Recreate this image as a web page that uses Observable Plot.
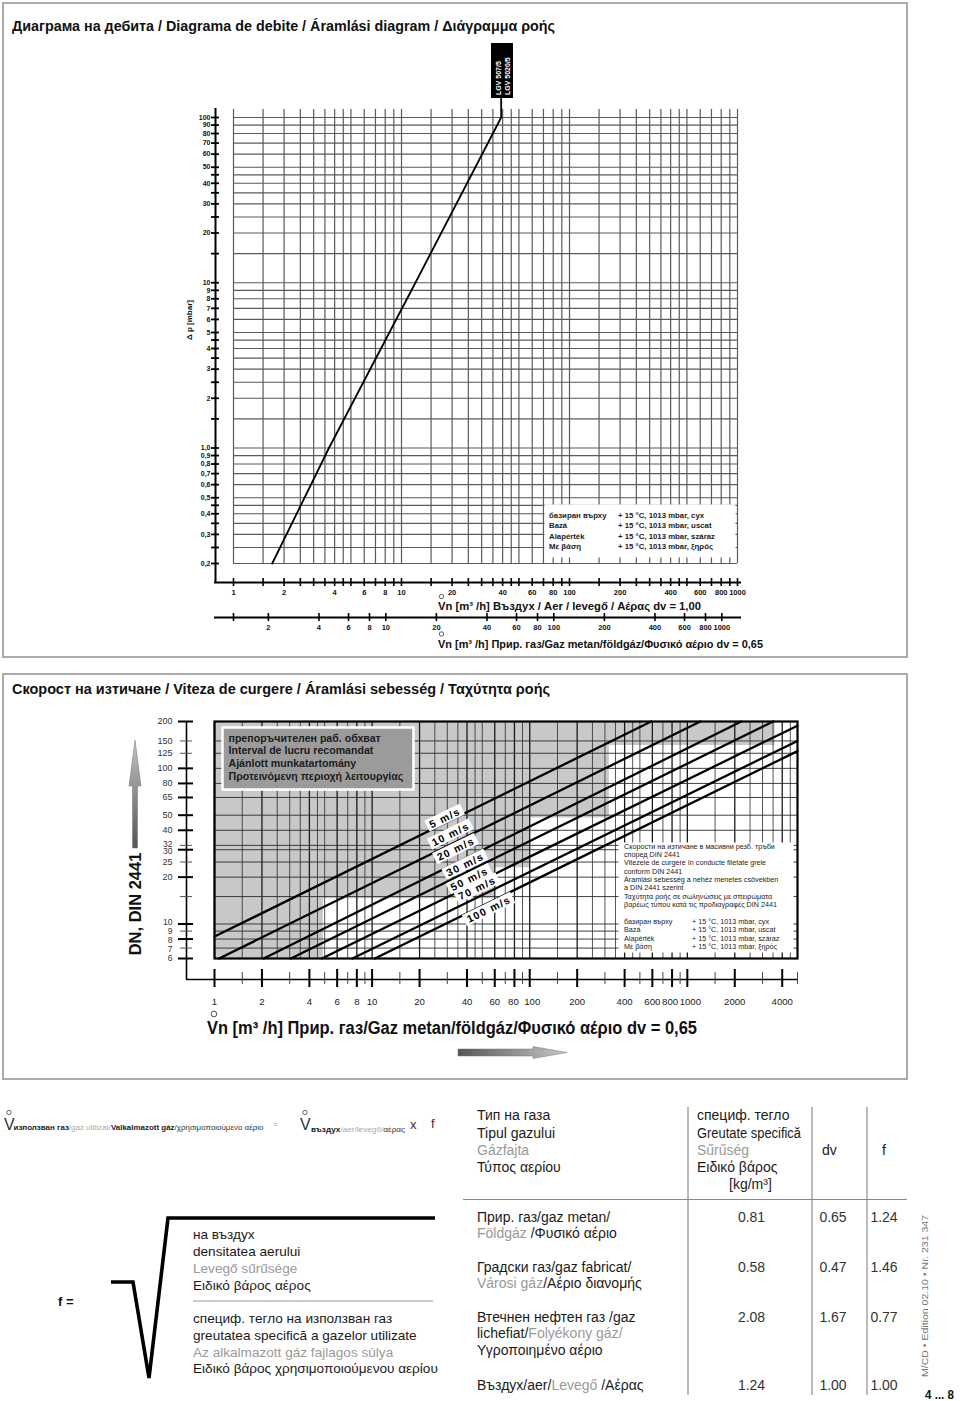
<!DOCTYPE html>
<html><head><meta charset="utf-8">
<script src="https://cdn.jsdelivr.net/npm/d3@7"></script>
<script src="https://cdn.jsdelivr.net/npm/@observablehq/plot@0.6"></script>
<style>
body{margin:0;background:#fff;}
#page{position:relative;width:960px;height:1401px;overflow:hidden;background:#fff;}
#page svg{position:absolute;left:0;}
</style></head><body><div id="page"></div>
<script>
const FONT = '"Liberation Sans", Arial, Helvetica, sans-serif';

// ---------------- Top chart: Δp vs flow ----------------
const flowGridTop = [1,1.5,2,2.5,3,3.5,4,4.5,5,6,7,8,9,10,15,20,25,30,35,40,45,50,60,70,80,90,100,150,200,250,300,350,400,450,500,600,700,800,900,1000];
const dpGrid = [0.2,0.25,0.3,0.35,0.4,0.45,0.5,0.6,0.7,0.8,0.9,1,1.5,2,2.5,3,3.5,4,4.5,5,6,7,8,9,10,15,20,25,30,35,40,45,50,60,70,80,90,100];
const dpTickValues = [100,90,80,70,60,50,40,30,20,10,9,8,7,6,5,4,3,2,1,0.9,0.8,0.7,0.6,0.5,0.4,0.3,0.2];
const dpTickLabels = ["100","90","80","70","60","50","40","30","20","10","9","8","7","6","5","4","3","2","1,0","0,9","0,8","0,7","0,6","0,5","0,4","0,3","0,2"];
const airTicks = [1,2,4,6,8,10,20,40,60,80,100,200,400,600,800,1000];
const gasTicks = [2,4,6,8,10,20,40,60,80,100,200,400,600,800,1000];
const gasStartTick = [1.24];
const gasFactor = 1.24;
const lgvFlow = [1.70,3.7,12.1,39.2,39.2];
const lgvDp   = [0.2,1,10,100,130];
const deviceNames = ["LGV 507/5","LGV 5020/5"];

// ---------------- Bottom chart: velocity ----------------
const dnGrid = [6,7,8,9,10,15,20,25,30,32,40,50,65,80,100,125,150,200];
const dnMajor = [200,100,80,65,50,40,30,20,10,8,6];
const dnMinor = [150,125,32,25,15,9,7];
const dnLabels = [200,150,125,100,80,65,50,40,32,30,25,20,10,9,8,7,6];
const flowGridBottom = [1,1.5,2,2.5,3,3.5,4,4.5,5,6,7,8,9,10,15,20,25,30,35,40,45,50,60,70,80,90,100,150,200,250,300,350,400,450,500,600,700,800,900,1000,1500,2000,2500,3000,3500,4000,4500,5000];
const flowLabels = [1,2,4,6,8,10,20,40,60,80,100,200,400,600,800,1000,2000,4000];
const flowMinorTicks = [1.5,3,5,7,9,15,30,50,70,90,150,300,500,700,900,1500,3000,5000];
const speedNames = ["5 m/s","10 m/s","20 m/s","30 m/s","50 m/s","70 m/s","100 m/s"];
const speedStartQ  = [1, 1.07, 2.05, 3.05, 4.8, 7.5, 10.4];
const speedStartDN = [8.3, 6, 6, 6, 6, 6, 6];
const speedEndQ    = [590, 1210, 2200, 3500, 5000, 5000, 5000];
const speedEndDN   = [200, 200, 200, 200, 188, 150, 129];
const speedLabelQ  = [29, 31.5, 34, 39, 41.5, 46.5, 55];
const rangeQ  = [1, 4.9, 60, 100, 320, 3600, 5000];
const rangeDN = [6, 14.5, 23, 48, 140, 200, 200];

// ---------------- Table ----------------
const densities = [0.81, 0.58, 2.08, 1.24];
const dvValues  = [0.65, 0.47, 1.67, 1.00];
const fValues   = [1.24, 1.46, 0.77, 1.00];

const page = document.getElementById("page");

// ===== Top plot =====
const lgvData = lgvFlow.map((v,i)=>({v, dp: lgvDp[i]}));
const topPlot = Plot.plot({
  width: 960, height: 660,
  marginLeft: 233, marginRight: 223, marginTop: 117, marginBottom: 97,
  style: {background: "transparent", fontFamily: FONT, overflow: "visible"},
  x: {type: "log", domain: [1, 1000], axis: null},
  y: {type: "log", domain: [0.2, 100], axis: null},
  marks: [
    Plot.ruleX(flowGridTop, {x: d=>d, y1: 100, y2: 0.2, insetTop: -8, stroke: "#5a5a5a", strokeWidth: 1.2}),
    Plot.ruleY(dpGrid, {y: d=>d, x1: 1, x2: 1000, stroke: "#5a5a5a", strokeWidth: 1.2}),
    Plot.frame({fill: "white", stroke: "none", insetLeft: 311, insetRight: 2, insetTop: 387, insetBottom: 6}),
    Plot.line(lgvData, {x: "v", y: "dp", stroke: "#000", strokeWidth: 1.8}),
    // y axis
    Plot.ruleX([1], {y1: 100, y2: 0.2, dx: -18, insetTop: -9, insetBottom: -19, stroke: "#000", strokeWidth: 2}),
    Plot.ruleY(dpGrid, {y: d=>d, x1: 1, x2: 1, dx: -18, insetLeft: -4, insetRight: -4, stroke: "#000", strokeWidth: 1.8}),
    Plot.text(dpTickValues, {y: d=>d, text: (d,i)=>dpTickLabels[i], frameAnchor: "left", dx: -23, textAnchor: "end", fontSize: 7, fontWeight: "bold", fill: "#111"}),
    // air axis
    Plot.ruleY([0.2], {y: d=>d, x1: 1, x2: 1000, dy: 19, insetLeft: -19, insetRight: -4, stroke: "#000", strokeWidth: 2}),
    Plot.ruleX(flowGridTop, {x: d=>d, y1: 0.2, y2: 0.2, dy: 19, insetTop: -4, insetBottom: -4, stroke: "#000", strokeWidth: 1.6}),
    Plot.text(airTicks, {x: d=>d, text: d=>String(d), frameAnchor: "bottom", dy: 31, fontSize: 7.5, fontWeight: "bold", fill: "#111"}),
    // natural gas axis
    Plot.ruleY([0.2], {y: d=>d, x1: 1, x2: 1000, dy: 54, insetLeft: -19, insetRight: -4, stroke: "#000", strokeWidth: 2}),
    Plot.ruleX(gasTicks.concat(gasStartTick), {x: d=>d/gasFactor, y1: 0.2, y2: 0.2, dy: 54, insetTop: -4, insetBottom: -4, stroke: "#000", strokeWidth: 1.6}),
    Plot.text(gasTicks, {x: d=>d/gasFactor, text: d=>String(d), frameAnchor: "bottom", dy: 66, fontSize: 7.5, fontWeight: "bold", fill: "#111"})
  ]
});
topPlot.style.top = "0px";
page.appendChild(topPlot);

// ===== Bottom plot =====
const speedRows = [];
speedNames.forEach((s,i)=>{
  speedRows.push({s, Q: speedStartQ[i], DN: speedStartDN[i]});
  speedRows.push({s, Q: speedEndQ[i], DN: speedEndDN[i]});
});
function dnOnLine(i, q){
  const a = Math.log10(speedStartQ[i]), b = Math.log10(speedEndQ[i]);
  const c = Math.log10(speedStartDN[i]), d = Math.log10(speedEndDN[i]);
  return Math.pow(10, c + (Math.log10(q)-a)*(d-c)/(b-a));
}
const labelDy = [-5,-10,-14,-8,-7,-9,7];
const rangeData = rangeQ.map((q,i)=>({q, dn: rangeDN[i]}));
const flowMajorLines = flowGridBottom.filter(v=>flowLabels.includes(v));
const flowMinorLines = flowGridBottom.filter(v=>!flowLabels.includes(v));
// small label nudges (pixels) to keep crowded tick labels apart
const dnNudge = {32: -1.5, 30: 2, 10: -1.5, 9: 0, 8: 1, 7: 1.5};
const flowNudge = {80: -1, 100: 2.5, 800: -2, 1000: 3};

const bottomPlot = Plot.plot({
  width: 960, height: 430,
  marginLeft: 214, marginRight: 163, marginTop: 61, marginBottom: 132,
  style: {background: "transparent", fontFamily: FONT, overflow: "visible"},
  x: {type: "log", domain: [1, 5000], axis: null},
  y: {type: "log", domain: [6, 200], axis: null},
  marks: [
    Plot.areaY(rangeData, {x: "q", y1: "dn", y2: 200, curve: "step-after", fill: "#c8c8c8"}),
    Plot.ruleX(flowMinorLines, {x: d=>d, y1: 200, y2: 6, stroke: "#2a2a2a", strokeWidth: 0.8}),
    Plot.ruleX(flowMajorLines, {x: d=>d, y1: 200, y2: 6, stroke: "#1a1a1a", strokeWidth: 1.3}),
    Plot.ruleY(dnGrid, {y: d=>d, x1: 1, x2: 5000, stroke: "#2a2a2a", strokeWidth: 0.9}),
    Plot.frame({fill: "#9b9b9b", stroke: "white", strokeWidth: 2.5, insetLeft: 8, insetTop: 6, insetRight: 384, insetBottom: 169}),
    Plot.frame({fill: "white", stroke: "none", insetLeft: 404, insetTop: 121, insetRight: 4, insetBottom: 6}),
    Plot.line(speedRows, {x: "Q", y: "DN", z: "s", stroke: "#000", strokeWidth: 2.3}),
    ...speedNames.map((s,i)=>Plot.text([s], {x: ()=>speedLabelQ[i], y: ()=>dnOnLine(i, speedLabelQ[i]), text: d=>d, rotate: -26, dy: labelDy[i], fontSize: 10.5, fontWeight: "bold", fill: "#000"})),
    Plot.frame({stroke: "#000", strokeWidth: 2.2}),
    // y axis (DN)
    Plot.ruleX([1], {y1: 200, y2: 6, dx: -28, insetBottom: -21, stroke: "#000", strokeWidth: 1.6}),
    Plot.ruleY(dnMajor, {y: d=>d, x1: 1, x2: 1, dx: -28, insetLeft: -8, insetRight: -7, stroke: "#000", strokeWidth: 2}),
    Plot.ruleY(dnMinor, {y: d=>d, x1: 1, x2: 1, dx: -28, insetLeft: -6, insetRight: -6, stroke: "#555", strokeWidth: 1}),
    ...dnLabels.map(v=>Plot.text([v], {y: d=>d, text: d=>String(d), frameAnchor: "left", dx: -42, dy: dnNudge[v]||0, textAnchor: "end", fontSize: (v<=32 && v!==20 && v!==25) ? 8.5 : 9, fill: "#333"})),
    // x axis (flow)
    Plot.ruleY([6], {y: d=>d, x1: 1, x2: 5000, dy: 21, insetLeft: -28, stroke: "#000", strokeWidth: 1.5}),
    Plot.ruleX(flowLabels, {x: d=>d, y1: 6, y2: 6, dy: 21, insetTop: -10, insetBottom: -8, stroke: "#000", strokeWidth: 2}),
    Plot.ruleX(flowMinorTicks, {x: d=>d, y1: 6, y2: 6, dy: 21, insetTop: -7, insetBottom: -5, stroke: "#444", strokeWidth: 1}),
    ...flowLabels.map(v=>Plot.text([v], {x: d=>d, text: d=>String(d), frameAnchor: "bottom", dx: flowNudge[v]||0, dy: 46, fontSize: 9.6, fill: "#222"}))
  ]
});
bottomPlot.style.top = "660px";
page.appendChild(bottomPlot);

// white boxes behind speed labels
d3.select(bottomPlot).selectAll("text").filter(function(){ return speedNames.includes(this.textContent); }).each(function(){
  this.style.letterSpacing = "1.3px";
  const b = this.getBBox();
  const r = document.createElementNS("http://www.w3.org/2000/svg","rect");
  r.setAttribute("x", b.x-3); r.setAttribute("y", b.y);
  r.setAttribute("width", b.width+6); r.setAttribute("height", b.height);
  r.setAttribute("fill", "white");
  const tr = this.getAttribute("transform"); if (tr) r.setAttribute("transform", tr);
  this.parentNode.insertBefore(r, this);
});

// ===== Overlay: panels, titles, notes, table =====
const ov = d3.select(page).append("svg").attr("width", 960).attr("height", 1401).style("top","0px")
  .style("font-family", FONT);
const defs = ov.append("defs");
const gv = defs.append("linearGradient").attr("id","gV").attr("x1",0).attr("y1",0).attr("x2",0).attr("y2",1);
gv.append("stop").attr("offset","0").attr("stop-color","#c4c4c4");
gv.append("stop").attr("offset","1").attr("stop-color","#555");
const gh = defs.append("linearGradient").attr("id","gH").attr("x1",0).attr("y1",0).attr("x2",1).attr("y2",0);
gh.append("stop").attr("offset","0").attr("stop-color","#555");
gh.append("stop").attr("offset","1").attr("stop-color","#c8c8c8");

function txt(x, y, parts, o={}){
  const t = ov.append("text").attr("x", x).attr("y", y).attr("dominant-baseline","central")
    .attr("font-size", o.size||10).attr("font-weight", o.weight||"normal").attr("fill", o.fill||"#1a1a1a")
    .attr("text-anchor", o.anchor||"start");
  if (o.len) t.attr("textLength", o.len).attr("lengthAdjust","spacingAndGlyphs");
  if (o.rotate) t.attr("transform", `rotate(${o.rotate},${x},${y})`);
  if (typeof parts === "string") parts = [[parts]];
  for (const [s, c, w] of parts){ const ts = t.append("tspan").text(s); if (c) ts.attr("fill", c); if (w) ts.attr("font-weight", w); }
  return t;
}
function ring(x, y, r, c){ ov.append("circle").attr("cx",x).attr("cy",y).attr("r",r).attr("fill","none").attr("stroke",c||"#333").attr("stroke-width",0.8); }

// panel borders
ov.append("rect").attr("x",3).attr("y",3).attr("width",904).attr("height",654).attr("fill","none").attr("stroke","#aaa").attr("stroke-width",2);
ov.append("rect").attr("x",3).attr("y",674).attr("width",904).attr("height",405).attr("fill","none").attr("stroke","#aaa").attr("stroke-width",2);

// titles
txt(12, 26, "Диаграма на дебита / Diagrama de debite / Áramlási diagram / Διάγραμμα ροής", {size: 14, weight: "bold", len: 543, fill: "#111"});
txt(12, 689, "Скорост на изтичане / Viteza de curgere / Áramlási sebesség /  Ταχύτητα ροής", {size: 14, weight: "bold", len: 538, fill: "#111"});

// LGV box
ov.append("rect").attr("x",491).attr("y",43).attr("width",22).attr("height",55).attr("fill","#000");
txt(497.5, 95, deviceNames[0], {size: 7, weight: "bold", fill: "#fff", rotate: -90});
txt(507, 95, deviceNames[1], {size: 7, weight: "bold", fill: "#fff", rotate: -90});

// Δp title
txt(189, 320, "Δ p [mbar]", {size: 8, weight: "bold", anchor: "middle", rotate: -90, fill: "#111"});

// top legend
const baseNames = ["базиран върху","Bazá","Alapérték","Με βάση"];
const baseConds = ["+ 15 °C, 1013 mbar, cyx","+ 15 °C, 1013 mbar, uscat","+ 15 °C, 1013 mbar, száraz","+ 15 °C, 1013 mbar, ξηρός"];
const legY = [515, 525.4, 535.7, 546.2];
baseNames.forEach((s,i)=>txt(549, legY[i], s, {size: 7.8, weight: "bold", fill: "#222"}));
baseConds.forEach((s,i)=>txt(618, legY[i], s, {size: 7.8, weight: "bold", fill: "#222"}));

// top axis titles
ring(441.5, 596.5, 2.2);
txt(438, 606, "Vn [m³ /h] Въздух / Aer / levegő / Αέρας dv = 1,00", {size: 11.5, weight: "bold", len: 263, fill: "#111"});
ring(441.5, 634, 2.2);
txt(438, 643.5, "Vn [m³ /h] Прир. газ/Gaz metan/földgáz/Φυσικό αέριο dv = 0,65", {size: 11.5, weight: "bold", len: 325, fill: "#111"});

// bottom chart: recommended range box text
const rangeNames = ["препоръчителен раб. обхват","Interval de lucru recomandat","Ajánlott munkatartomány","Προτεινόμενη περιοχή λειτουργίας"];
[737.5, 750.3, 763.2, 776].forEach((y,i)=>txt(228.5, y, rangeNames[i], {size: 10.6, weight: "bold", fill: "#1c1c1c"}));

// note
const noteLines = ["Скорости на изтичане в масивни резб. тръби","според DIN 2441","Vitezele de curgere în conducte filetate grele","conform DIN 2441","Áramlási sebesség a nehéz menetes csövekben","a DIN 2441 szerint","Ταχύτητα ροής σε σωληνώσεις με σπειρώματα","βαρέως τύπου κατά τις προδιαγραφές DIN 2441"];
[845.7, 854, 862.3, 870.7, 879, 887.3, 895.7, 904].forEach((y,i)=>txt(624, y, noteLines[i], {size: 7.2, fill: "#222"}));
[921, 929.3, 937.7, 946].forEach((y,i)=>{ txt(624, y, baseNames[i], {size: 7.2, fill: "#222"}); txt(692, y, baseConds[i], {size: 7.2, fill: "#222"}); });

// DN arrow + label
ov.append("polygon").attr("points","135,740 129,786 132.5,786 132.5,848 137.5,848 137.5,786 141,786").attr("fill","url(#gV)").attr("stroke","#777").attr("stroke-width",0.5);
txt(135, 904, "DN, DIN 2441", {size: 16.5, weight: "bold", anchor: "middle", rotate: -90, fill: "#111"});

// bottom x title + arrow
ring(214, 1014, 2.8, "#222");
txt(207, 1027.5, "Vn [m³ /h] Прир. газ/Gaz metan/földgáz/Φυσικό αέριο dv = 0,65", {size: 17.5, weight: "bold", len: 490, fill: "#111"});
ov.append("polygon").attr("points","458,1049 533,1049 533,1046.5 567,1052.5 533,1058.5 533,1056 458,1056").attr("fill","url(#gH)").attr("stroke","#777").attr("stroke-width",0.5);

// ===== formula =====
ring(9, 1112.5, 2.2, "#444");
txt(4, 1124, "V", {size: 16, fill: "#333"});
txt(13.5, 1127, [["използван газ","#222","bold"],["/gaz utilizat/","#aaa"],["Valkalmazott gáz","#222","bold"],["/χρησιμοποιούμενο αέριο","#333"]], {size: 7, len: 250});
txt(273, 1124, "=", {size: 8, fill: "#999"});
ring(305, 1112.5, 2.2, "#444");
txt(300, 1124, "V", {size: 16, fill: "#333"});
txt(311, 1128.5, [["въздух","#222","bold"],["/aer/levegő/","#aaa"],["αέρας","#333"]], {size: 7, len: 94});
txt(410, 1124, "x", {size: 13, fill: "#333"});
txt(431, 1123, "f", {size: 13, fill: "#333"});

// table header
const hdr1 = [["Тип на газа"],["Tipul gazului"],["Gázfajta","#999"],["Τύπος αερίου"]];
const hdr2 = [["специф. тегло"],["Greutate specifică"],["Sűrűség","#999"],["Ειδικό βάρος"]];
const hdr2Len = [null, 104, null, null];
const hdrY = [1115, 1132.5, 1150, 1167];
hdr1.forEach((p,i)=>txt(477, hdrY[i], [p], {size: 14, fill: "#1a1a1a"}));
hdr2.forEach((p,i)=>txt(697, hdrY[i], [p], {size: 14, fill: "#1a1a1a", len: hdr2Len[i]}));
txt(729, 1184, "[kg/m³]", {size: 14, fill: "#1a1a1a"});
txt(822, 1150, "dv", {size: 14, fill: "#1a1a1a"});
txt(882, 1150, "f", {size: 14, fill: "#1a1a1a"});
[688, 812, 867].forEach(x=>ov.append("line").attr("x1",x).attr("x2",x).attr("y1",1107).attr("y2",1395).attr("stroke","#777").attr("stroke-width",1));
ov.append("line").attr("x1",463).attr("x2",907).attr("y1",1199.5).attr("y2",1199.5).attr("stroke","#888").attr("stroke-width",1);

// table rows
const rowText = [
  [[["Прир. газ/gaz metan/"]], [["Földgáz","#999"],[" /Φυσικό αέριο"]]],
  [[["Градски газ/gaz fabricat/"]], [["Városi gáz","#999"],["/Αέριο διανομής"]]],
  [[["Втечнен нефтен газ /gaz"]], [["lichefiat/"],["Folyékony gáz/","#999"]], [["Υγροποιημένο αέριο"]]],
  [[["Въздух/aer/"],["Levegő","#999"],[" /Αέρας"]]]
];
const rowY = [1216.7, 1266.7, 1316.7, 1385];
rowText.forEach((lines,r)=>{
  lines.forEach((parts,k)=>txt(477, rowY[r] + k*16.7, parts, {size: 14, fill: "#1a1a1a"}));
  txt(751.5, rowY[r], densities[r].toFixed(2), {size: 14, anchor: "middle", fill: "#333"});
  txt(833, rowY[r], dvValues[r].toFixed(2), {size: 14, anchor: "middle", fill: "#333"});
  txt(884, rowY[r], fValues[r].toFixed(2), {size: 14, anchor: "middle", fill: "#333"});
});

// f = sqrt(...)
txt(58, 1301, "f =", {size: 13, weight: "bold", fill: "#111"});
ov.append("polyline").attr("points","111,1282 133,1282 149,1378 168,1218 435,1218").attr("fill","none").attr("stroke","#000").attr("stroke-width",3.6).attr("stroke-linejoin","miter");
const numLines = [[["на въздух"]],[["densitatea aerului"]],[["Levegő sűrűsége","#999"]],[["Ειδικό βάρος αέρος"]]];
const denLines = [[["специф. тегло на използван газ"]],[["greutatea specifică a gazelor utilizate"]],[["Az alkalmazott gáz fajlagos súlya","#999"]],[["Ειδικό βάρος χρησιμοποιούμενου αερίου"]]];
[1234.3, 1251, 1267.7, 1285].forEach((y,i)=>txt(193, y, numLines[i], {size: 13.6, fill: "#1a1a1a"}));
ov.append("line").attr("x1",193).attr("x2",433).attr("y1",1301).attr("y2",1301).attr("stroke","#999").attr("stroke-width",1);
[1318.3, 1335, 1351.7, 1368.3].forEach((y,i)=>txt(193, y, denLines[i], {size: 13.6, fill: "#1a1a1a"}));

// side edition note and page number
txt(925, 1296, "M/CD • Edition 02.10 • Nr. 231 347", {size: 9, fill: "#777", anchor: "middle", rotate: -90, len: 162});
txt(925, 1394, "4 ... 8", {size: 13, weight: "bold", fill: "#111", len: 29});
</script></body></html>
